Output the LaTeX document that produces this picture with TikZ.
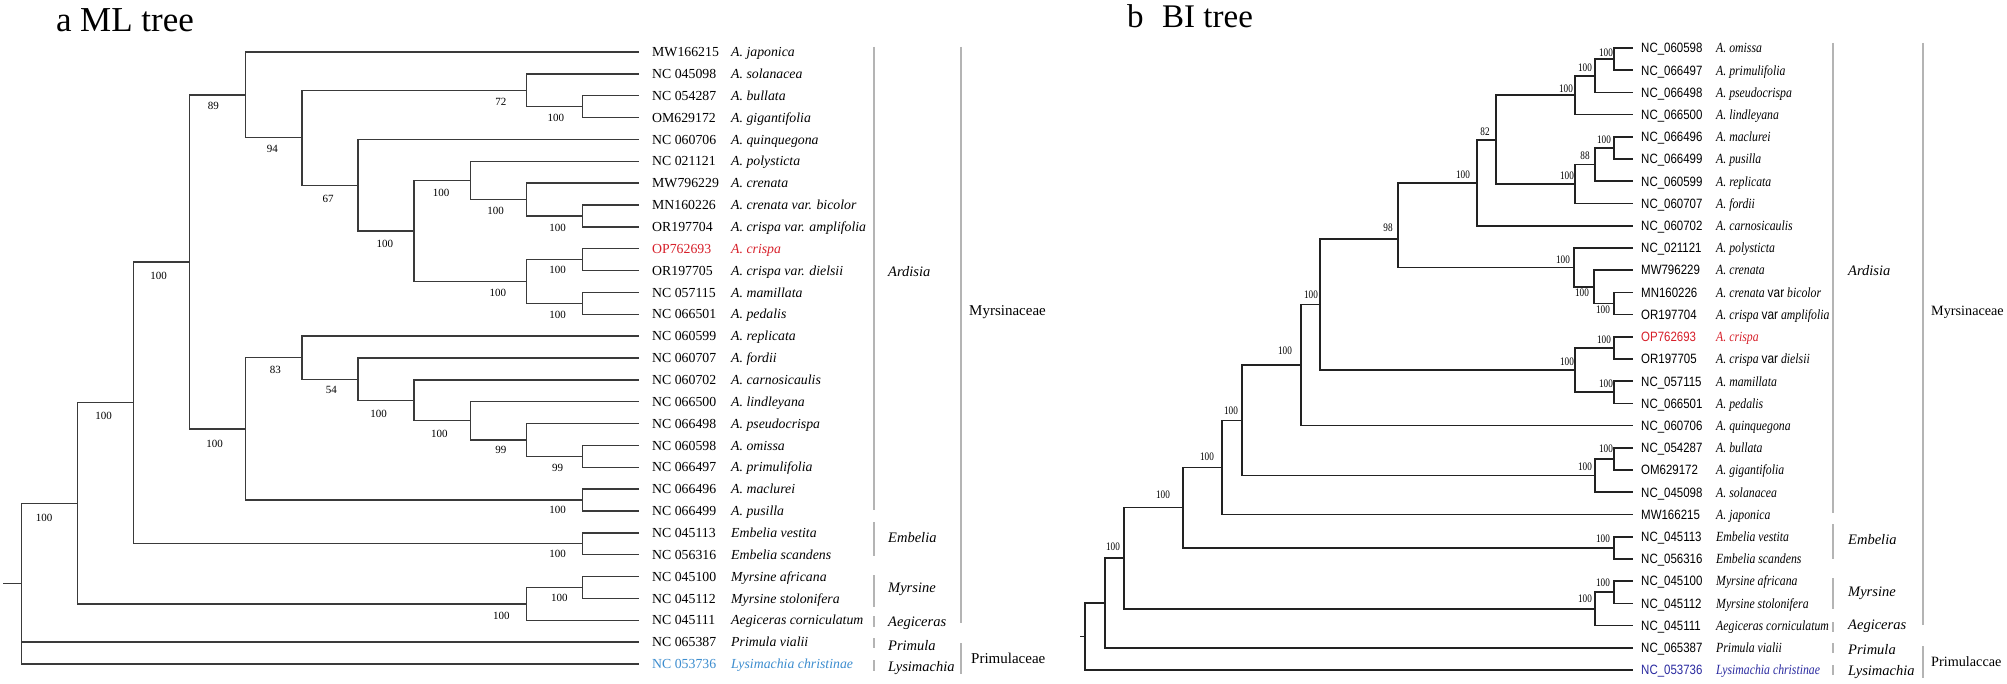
\documentclass[tikz,border=0pt]{standalone}
\usepackage{fontspec}
\setmainfont{Liberation Serif}
\newfontfamily\bisans[FakeStretch=0.85]{Liberation Sans}
\newfontfamily\biserif[FakeStretch=0.84]{Liberation Serif}
\newfontfamily\bilab[FakeStretch=0.8]{Liberation Serif}
\newcommand\bivar{{\bisans\upshape var}}
\definecolor{lineml}{HTML}{3A3A3A}
\definecolor{linebi}{HTML}{222222}
\definecolor{barc}{HTML}{B4B4B4}
\definecolor{redc}{HTML}{D7202A}
\definecolor{mlblue}{HTML}{3C8DCF}
\definecolor{biblue}{HTML}{2A2AA0}
\tikzset{
  mledge/.style={draw=lineml, line width=1.3pt},
  biedge/.style={draw=linebi, line width=1.7pt},
  grpbar/.style={draw=barc, line width=1.4pt},
  famtext/.style={anchor=west, inner sep=0, font=\fontsize{15}{16}\selectfont},
  grptext/.style={anchor=west, inner sep=0, font=\fontsize{14.5}{16}\selectfont\itshape},
  bigrptext/.style={anchor=west, inner sep=0, font=\fontsize{14.5}{16}\selectfont\itshape},
  bifamtext/.style={anchor=west, inner sep=0, font=\fontsize{14.2}{16}\selectfont},
  mlacc/.style={anchor=base west, inner sep=0, font=\fontsize{13.8}{15}\selectfont},
  mlsp/.style={anchor=base west, inner sep=0, font=\fontsize{13.8}{15}\selectfont\itshape},
  biacc/.style={anchor=base west, inner sep=0, font=\fontsize{13.5}{15}\bisans},
  bisp/.style={anchor=base west, inner sep=0, font=\fontsize{14}{15}\biserif\itshape},
  mlsup/.style={inner sep=0, font=\fontsize{11}{12}\selectfont},
  bisup/.style={inner sep=0, font=\fontsize{11.5}{12}\bilab},
  titletext/.style={anchor=base west, inner sep=0}
}
\begin{document}
\begin{tikzpicture}[x=1pt,y=-1pt]
\path[use as bounding box, fill=white] (0,0) rectangle (2007,684);

% ---------- titles ----------
\node[titletext, font=\fontsize{35}{36}\selectfont] (ta) at (56,32) {a};
\node[titletext, font=\fontsize{35}{36}\selectfont] (tml) at (80,32) {ML tree};
\node[titletext, font=\fontsize{33}{34}\selectfont] (tb) at (1127,28) {b};
\node[titletext, font=\fontsize{33}{34}\selectfont] (tbi) at (1162,28) {BI tree};

% ---------- ML tree leaves ----------
\foreach \acc/\sp/\col [count=\i from 0] in {
  MW166215/A. japonica/black,
  NC 045098/A. solanacea/black,
  NC 054287/A. bullata/black,
  OM629172/A. gigantifolia/black,
  NC 060706/A. quinquegona/black,
  NC 021121/A. polysticta/black,
  MW796229/A. crenata/black,
  MN160226/A. crenata var. bicolor/black,
  OR197704/A. crispa var. amplifolia/black,
  OP762693/A. crispa/redc,
  OR197705/A. crispa var. dielsii/black,
  NC 057115/A. mamillata/black,
  NC 066501/A. pedalis/black,
  NC 060599/A. replicata/black,
  NC 060707/A. fordii/black,
  NC 060702/A. carnosicaulis/black,
  NC 066500/A. lindleyana/black,
  NC 066498/A. pseudocrispa/black,
  NC 060598/A. omissa/black,
  NC 066497/A. primulifolia/black,
  NC 066496/A. maclurei/black,
  NC 066499/A. pusilla/black,
  NC 045113/Embelia vestita/black,
  NC 056316/Embelia scandens/black,
  NC 045100/Myrsine africana/black,
  NC 045112/Myrsine stolonifera/black,
  NC 045111/Aegiceras corniculatum/black,
  NC 065387/Primula vialii/black,
  NC 053736/Lysimachia christinae/mlblue}{
  \pgfmathsetmacro\yy{52+21.857*\i}
  \coordinate (ml\i) at (638.5,\yy);
  \node[mlacc, text=\col] (mla\i) at (652,\yy+4.6) {\acc};
  \node[mlsp, text=\col] (mls\i) at (731,\yy+4.6) {\sp};
}

% ---------- ML internal nodes ----------
\coordinate (mstub) at (3,583.7);
\coordinate (mroot) at (21.4,583.7);
\coordinate (mA) at (77.5,503.4);
\coordinate (mB) at (133.6,402.8);
\coordinate (mC) at (189.7,261.9);
\coordinate (mD) at (245.8,94.9);
\coordinate (mF) at (301.9,137.7);
\coordinate (mG) at (526.3,90.3);
\coordinate (mGb) at (582.4,106.6);
\coordinate (mH) at (358,185.2);
\coordinate (mI) at (414.1,231);
\coordinate (mJ) at (470.2,180.4);
\coordinate (mL) at (526.3,199.5);
\coordinate (mM) at (582.4,215.9);
\coordinate (mK) at (526.3,281.5);
\coordinate (mN) at (582.4,259.6);
\coordinate (mO) at (582.4,303.4);
\coordinate (mE) at (245.8,428.9);
\coordinate (mP) at (301.9,357.7);
\coordinate (mR) at (358,379.2);
\coordinate (mS) at (414.1,400.4);
\coordinate (mT) at (470.2,420.8);
\coordinate (mU) at (526.3,440);
\coordinate (mV) at (582.4,456.4);
\coordinate (mQ) at (582.4,500.1);
\coordinate (mEm) at (582.4,543.8);
\coordinate (mW) at (582.4,587.5);
\coordinate (mMy) at (526.3,603.9);

\draw[mledge] (mstub) -- (mroot);
\foreach \p/\c in {mroot/mA, mroot/ml27, mroot/ml28, mA/mB, mA/mMy, mB/mC, mB/mEm,
  mC/mD, mC/mE, mD/ml0, mD/mF, mF/mG, mF/mH, mG/ml1, mG/mGb, mGb/ml2, mGb/ml3,
  mH/ml4, mH/mI, mI/mJ, mI/mK, mJ/ml5, mJ/mL, mL/ml6, mL/mM, mM/ml7, mM/ml8,
  mK/mN, mK/mO, mN/ml9, mN/ml10, mO/ml11, mO/ml12,
  mE/mP, mE/mQ, mP/ml13, mP/mR, mR/ml14, mR/mS, mS/ml15, mS/mT, mT/ml16, mT/mU,
  mU/ml17, mU/mV, mV/ml18, mV/ml19, mQ/ml20, mQ/ml21, mEm/ml22, mEm/ml23,
  mMy/mW, mMy/ml26, mW/ml24, mW/ml25}
  \draw[mledge] (\p) |- (\c);

% ML support values
\foreach \n/\x/\y/\t in {sA/44/518/100, sB/103.6/416/100, sC/158.5/276/100, sD/213.4/106/89,
  sF/272.3/149/94, sG/500.9/101.7/72, sGb/555.8/118/100, sH/328.1/199.3/67,
  sI/384.8/244.3/100, sJ/441.1/193.3/100, sL/495.5/211.3/100, sM/557.6/228.3/100,
  sK/497.8/293/100, sN/557.6/270.3/100, sO/557.6/314.7/100, sE/214.7/444.3/100,
  sP/275.4/370.3/83, sR/331.3/390/54, sS/378.6/414/100, sT/439.3/433.7/100,
  sU/500.9/450.3/99, sV/557.6/467.7/99, sQ/557.6/510.3/100, sEm/557.6/554.3/100,
  sW/559.4/598.3/100, sMy/501.3/616.3/100}
  \node[mlsup] (ml\n) at (\x,\y) {\t};

% ML group bars and labels
\draw[grpbar] (874,47) -- (874,510);
\draw[grpbar] (874,522) -- (874,556);
\draw[grpbar] (874,575) -- (874,607);
\draw[grpbar] (874,616) -- (874,627);
\draw[grpbar] (874,638) -- (874,648);
\draw[grpbar] (874,660) -- (874,671);
\draw[grpbar] (961,47) -- (961,623);
\draw[grpbar] (961,643) -- (961,674);
\node[grptext] (mgA) at (888,272) {Ardisia};
\node[grptext] (mgE) at (888,538) {Embelia};
\node[grptext] (mgM) at (888,589) {Myrsine};
\node[grptext] (mgAe) at (888,623) {Aegiceras};
\node[grptext] (mgP) at (888,646) {Primula};
\node[grptext] (mgL) at (888,668) {Lysimachia};
\node[famtext] (mfM) at (969,312) {Myrsinaceae};
\node[famtext] (mfP) at (971,658) {Primulaceae};

% ---------- BI tree leaves ----------
\foreach \acc/\sp/\col [count=\i from 0] in {
  NC\_060598/A. omissa/black,
  NC\_066497/A. primulifolia/black,
  NC\_066498/A. pseudocrispa/black,
  NC\_066500/A. lindleyana/black,
  NC\_066496/A. maclurei/black,
  NC\_066499/A. pusilla/black,
  NC\_060599/A.\ replicata/black,
  NC\_060707/A.\ fordii/black,
  NC\_060702/A. carnosicaulis/black,
  NC\_021121/A. polysticta/black,
  MW796229/A. crenata/black,
  MN160226/{A. crenata \bivar{} bicolor}/black,
  OR197704/{A. crispa \bivar{} amplifolia}/black,
  OP762693/A. crispa/redc,
  OR197705/{A. crispa \bivar{} dielsii}/black,
  NC\_057115/A. mamillata/black,
  NC\_066501/A.\ pedalis/black,
  NC\_060706/A. quinquegona/black,
  NC\_054287/A. bullata/black,
  OM629172/A. gigantifolia/black,
  NC\_045098/A. solanacea/black,
  MW166215/A. japonica/black,
  NC\_045113/Embelia vestita/black,
  NC\_056316/Embelia scandens/black,
  NC\_045100/Myrsine africana/black,
  NC\_045112/Myrsine stolonifera/black,
  NC\_045111/Aegiceras corniculatum/black,
  NC\_065387/Primula vialii/black,
  NC\_053736/Lysimachia christinae/biblue}{
  \pgfmathsetmacro\yy{48+22.214*\i}
  \coordinate (bl\i) at (1633,\yy);
  \node[biacc, text=\col] (bla\i) at (1641,\yy+4.8) {\acc};
  \node[bisp, text=\col] (bls\i) at (1716,\yy+4.8) {\sp};
}

% ---------- BI internal nodes ----------
\coordinate (bstub) at (1080,636.5);
\coordinate (broot) at (1085,636.5);
\coordinate (b27) at (1105,603);
\coordinate (b26) at (1124,558.3);
\coordinate (b23) at (1183,507.6);
\coordinate (b21) at (1222,467.4);
\coordinate (b20) at (1242,420.4);
\coordinate (b17) at (1301,365.1);
\coordinate (b16) at (1320,304.6);
\coordinate (b98) at (1398,239);
\coordinate (b8) at (1477,182.7);
\coordinate (b7) at (1496,139.7);
\coordinate (b3) at (1575,95.2);
\coordinate (b2) at (1595,75.8);
\coordinate (b1) at (1614,59.1);
\coordinate (b6) at (1575,184.1);
\coordinate (b5) at (1595,164.6);
\coordinate (b4) at (1614,148);
\coordinate (b11) at (1574,267.4);
\coordinate (b10) at (1594,286.8);
\coordinate (b9) at (1614,303.5);
\coordinate (b14) at (1575,370.1);
\coordinate (b12) at (1614,347.9);
\coordinate (b13) at (1614,392.3);
\coordinate (b19) at (1595,475.6);
\coordinate (b18) at (1614,459);
\coordinate (b22) at (1614,547.8);
\coordinate (b25) at (1595,608.9);
\coordinate (b24) at (1614,592.3);

\draw[biedge] (bstub) -- (broot);
\foreach \p/\c in {broot/b27, broot/bl28, b27/b26, b27/bl27, b26/b23, b26/b25,
  b23/b21, b23/b22, b21/b20, b21/bl21, b20/b17, b20/b19, b17/b16, b17/bl17,
  b16/b98, b16/b14, b98/b8, b98/b11, b8/b7, b8/bl8, b7/b3, b7/b6,
  b3/b2, b3/bl3, b2/b1, b2/bl2, b1/bl0, b1/bl1, b6/b5, b6/bl7, b5/b4, b5/bl6,
  b4/bl4, b4/bl5, b11/bl9, b11/b10, b10/bl10, b10/b9, b9/bl11, b9/bl12,
  b14/b12, b14/b13, b12/bl13, b12/bl14, b13/bl15, b13/bl16,
  b19/b18, b19/bl20, b18/bl18, b18/bl19, b22/bl22, b22/bl23,
  b25/b24, b25/bl26, b24/bl24, b24/bl25}
  \draw[biedge] (\p) |- (\c);

% BI support values
\foreach \n/\x/\y/\t in {s1/1606/53/100, s2/1585/68/100, s3/1566/89/100, s4/1604/140/100,
  s5/1585/156/88, s6/1567/176/100, s7/1485/132/82, s8/1463/175/100, s98/1388/228/98,
  s11/1563/260/100, s10/1582/293/100, s9/1603/310/100, s12/1604/340/100,
  s13/1606/384/100, s14/1567/362/100, s16/1311/295/100, s17/1285/351/100,
  s18/1606/449/100, s19/1585/467/100, s20/1231/411/100, s21/1207/457/100,
  s22/1603/539/100, s23/1163/495/100, s24/1603/583/100, s25/1585/599/100,
  s26/1113/547/100}
  \node[bisup] (bi\n) at (\x,\y) {\t};

% BI group bars and labels
\draw[grpbar] (1833,43) -- (1833,513);
\draw[grpbar] (1833,524) -- (1833,559);
\draw[grpbar] (1833,578) -- (1833,609);
\draw[grpbar] (1833,622) -- (1833,632);
\draw[grpbar] (1833,643) -- (1833,653);
\draw[grpbar] (1833,665) -- (1833,675);
\draw[grpbar] (1923,43) -- (1923,625);
\draw[grpbar] (1923,646) -- (1923,678);
\node[bigrptext] (bgA) at (1848,271) {Ardisia};
\node[bigrptext] (bgE) at (1848,540) {Embelia};
\node[bigrptext] (bgM) at (1848,593) {Myrsine};
\node[bigrptext] (bgAe) at (1848,626) {Aegiceras};
\node[bigrptext] (bgP) at (1848,650) {Primula};
\node[bigrptext] (bgL) at (1848,672) {Lysimachia};
\node[bifamtext] (bfM) at (1931,312) {Myrsinaceae};
\node[bifamtext] (bfP) at (1931,662) {Primulaccae};
\end{tikzpicture}
\end{document}
